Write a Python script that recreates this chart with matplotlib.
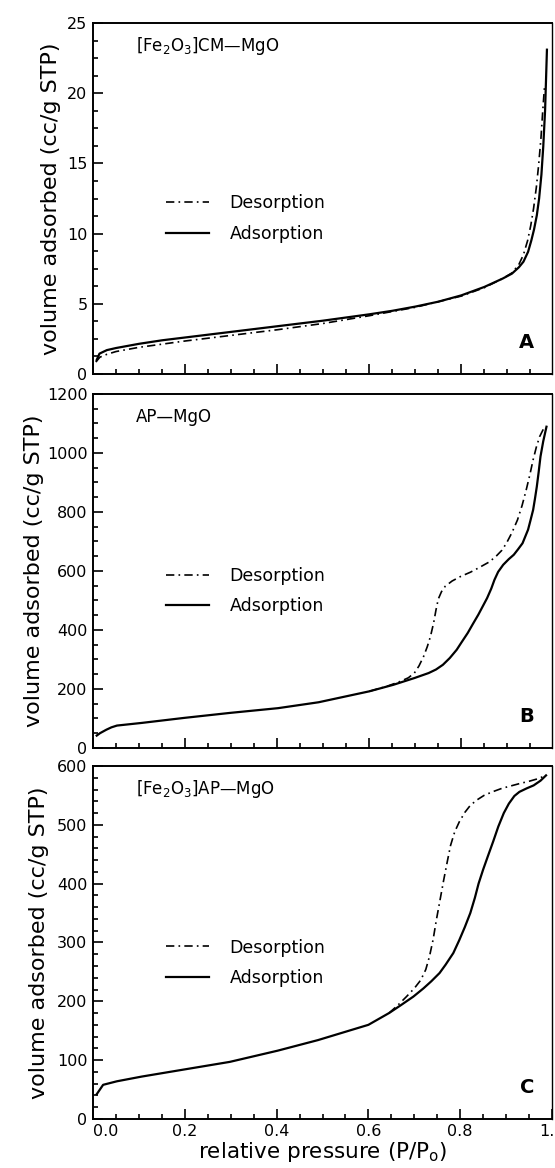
import matplotlib
matplotlib.use('Agg')
import matplotlib.pyplot as plt
from matplotlib.ticker import MultipleLocator

# Panel A: [Fe2O3]CM-MgO isotherm (cc/g STP vs P/P0).
a_ads_x = [0.008, 0.014, 0.03, 0.05, 0.1, 0.15, 0.2, 0.3, 0.4, 0.5, 0.6, 0.65, 0.7, 0.75, 0.8,
           0.85, 0.89, 0.91, 0.925, 0.935, 0.945, 0.952, 0.958, 0.964, 0.969, 0.974, 0.978,
           0.982, 0.986]
a_ads_y = [1.0, 1.45, 1.7, 1.85, 2.15, 2.4, 2.6, 3.0, 3.4, 3.8, 4.25, 4.5, 4.8, 5.15, 5.6,
           6.2, 6.8, 7.15, 7.6, 8.0, 8.7, 9.5, 10.3, 11.3, 12.5, 14.2, 16.2, 18.8, 23.1]
a_des_x = [0.006, 0.015, 0.03, 0.05, 0.1, 0.2, 0.3, 0.4, 0.5, 0.6, 0.7, 0.8, 0.85, 0.89,
           0.91, 0.925, 0.935, 0.944, 0.951, 0.957, 0.963, 0.968, 0.973, 0.977, 0.981]
a_des_y = [0.85, 1.2, 1.4, 1.6, 1.9, 2.35, 2.75, 3.15, 3.6, 4.15, 4.75, 5.55, 6.15, 6.8,
           7.2, 7.8, 8.5, 9.5, 10.6, 11.8, 13.3, 14.9, 16.8, 18.8, 20.6]

# Panel B: AP-MgO isotherm.
b_ads_x = [0.008, 0.015, 0.029, 0.04, 0.052, 0.106, 0.198, 0.298, 0.402, 0.49, 0.6, 0.652,
           0.698, 0.729, 0.745, 0.76, 0.775, 0.79, 0.8, 0.814, 0.825, 0.837, 0.856, 0.865,
           0.872, 0.88, 0.891, 0.903, 0.914, 0.923, 0.933, 0.945, 0.95, 0.956, 0.96, 0.964,
           0.968, 0.972, 0.978, 0.985]
b_ads_y = [42, 50, 62, 70, 76, 85, 102, 119, 135, 155, 192, 214, 237, 254, 266, 282, 305,
           333, 357, 390, 420, 452, 508, 540, 570, 597, 621, 640, 655, 673, 694, 740, 770,
           807, 845, 886, 935, 988, 1040, 1089]
b_des_x = [0.6, 0.64, 0.668, 0.685, 0.698, 0.708, 0.718, 0.726, 0.733, 0.74, 0.745, 0.75,
           0.757, 0.765, 0.78, 0.798, 0.82, 0.837, 0.86, 0.875, 0.888, 0.898, 0.91, 0.922,
           0.932, 0.941, 0.949, 0.956, 0.963, 0.97, 0.978]
b_des_y = [192, 210, 226, 238, 254, 278, 310, 343, 378, 425, 468, 505, 530, 548, 566, 581,
           596, 610, 630, 649, 670, 694, 730, 773, 822, 875, 927, 977, 1020, 1055, 1080]

# Panel C: [Fe2O3]AP-MgO isotherm.
c_ads_x = [0.008, 0.022, 0.052, 0.106, 0.198, 0.298, 0.402, 0.49, 0.6, 0.645, 0.67, 0.698,
           0.72, 0.737, 0.755, 0.768, 0.785, 0.798, 0.81, 0.822, 0.832, 0.84, 0.85, 0.86,
           0.872, 0.883, 0.895, 0.906, 0.918, 0.929, 0.945, 0.96, 0.975, 0.987]
c_ads_y = [42, 58, 64, 72, 84, 97, 116, 134, 160, 180, 193, 208, 222, 234, 248, 262, 282,
           304, 326, 350, 376, 400, 424, 446, 472, 497, 520, 536, 549, 556, 562, 567, 575,
           584]
c_des_x = [0.645, 0.665, 0.683, 0.7, 0.714, 0.725, 0.733, 0.741, 0.748, 0.756, 0.764, 0.772,
           0.779, 0.788, 0.798, 0.81, 0.822, 0.836, 0.852, 0.87, 0.891, 0.91, 0.929, 0.95,
           0.968, 0.987]
c_des_y = [180, 194, 208, 222, 236, 254, 276, 305, 338, 372, 406, 438, 465, 488, 505, 521,
           533, 542, 550, 556, 562, 566, 570, 574, 578, 584]

panel_titles = ['[Fe$_2$O$_3$]CM\u2014MgO', 'AP\u2014MgO', '[Fe$_2$O$_3$]AP\u2014MgO']
panel_letters = ['A', 'B', 'C']
y_limits = [25, 1200, 600]
y_major = [5, 200, 100]
y_minor = [1.25, 50, 20]
x_ticks = [0.0, 0.2, 0.4, 0.6, 0.8, 1.0]
x_tick_labels = ['0.0', '0.2', '0.4', '0.6', '0.8', '1.0']

series = [
    (a_ads_x, a_ads_y, a_des_x, a_des_y),
    (b_ads_x, b_ads_y, b_des_x, b_des_y),
    (c_ads_x, c_ads_y, c_des_x, c_des_y),
]

plt.rcParams['font.family'] = ['DejaVu Sans']

fig = plt.figure(figsize=(5.55, 11.68), dpi=100)
rects = [
    [0.1676, 0.6798, 0.827, 0.3005],
    [0.1676, 0.3596, 0.827, 0.3031],
    [0.1676, 0.0420, 0.827, 0.3022],
]
ylabel_x = [-0.070, -0.107, -0.096]

for i, (ads_x, ads_y, des_x, des_y) in enumerate(series):
    ax = fig.add_axes(rects[i])
    des_line, = ax.plot(des_x, des_y, color='black', lw=1.2, dashes=[5, 2.5, 1, 2.5])
    ads_line, = ax.plot(ads_x, ads_y, color='black', lw=1.6)

    ax.set_xlim(0, 0.997)
    ax.set_ylim(0, y_limits[i])
    ax.xaxis.set_major_locator(MultipleLocator(0.2))
    ax.xaxis.set_minor_locator(MultipleLocator(0.05))
    ax.yaxis.set_major_locator(MultipleLocator(y_major[i]))
    ax.yaxis.set_minor_locator(MultipleLocator(y_minor[i]))
    ax.tick_params(which='both', direction='in', top=False, right=False, width=1.2,
                   labelsize=11.5, pad=4)
    ax.tick_params(which='major', length=7)
    ax.tick_params(which='minor', length=3.5)
    for side in ['left', 'bottom', 'top']:
        ax.spines[side].set_linewidth(1.4)
    ax.spines['right'].set_linewidth(1.0)

    if i == 2:
        ax.set_xticks(x_ticks)
        ax.set_xticklabels(x_tick_labels)
        # First label sits clear of the y-axis "0", as in the reference.
        ax.get_xticklabels()[0].set_horizontalalignment('left')
        ax.set_xlabel('relative pressure (P/P$_\\mathrm{o}$)', fontsize=15.5)
        ax.xaxis.set_label_coords(0.5, -0.06)
        ax.xaxis.label.set_verticalalignment('top')
    else:
        ax.tick_params(labelbottom=False)

    ax.set_ylabel('volume adsorbed (cc/g STP)', fontsize=16)
    ax.yaxis.set_label_coords(ylabel_x[i], 0.5)

    ax.text(0.093, 0.935, panel_titles[i], transform=ax.transAxes, fontsize=12,
            ha='left', va='center')
    ax.text(0.945, 0.09, panel_letters[i], transform=ax.transAxes, fontsize=14,
            fontweight='bold', ha='center', va='center')

    ax.legend([des_line, ads_line], ['Desorption', 'Adsorption'], loc='center left',
              bbox_to_anchor=(0.159, 0.443), frameon=False, fontsize=12.5,
              handlelength=2.5, handletextpad=1.15, labelspacing=0.7,
              borderpad=0, borderaxespad=0)

fig.savefig('out.png', dpi=100)
